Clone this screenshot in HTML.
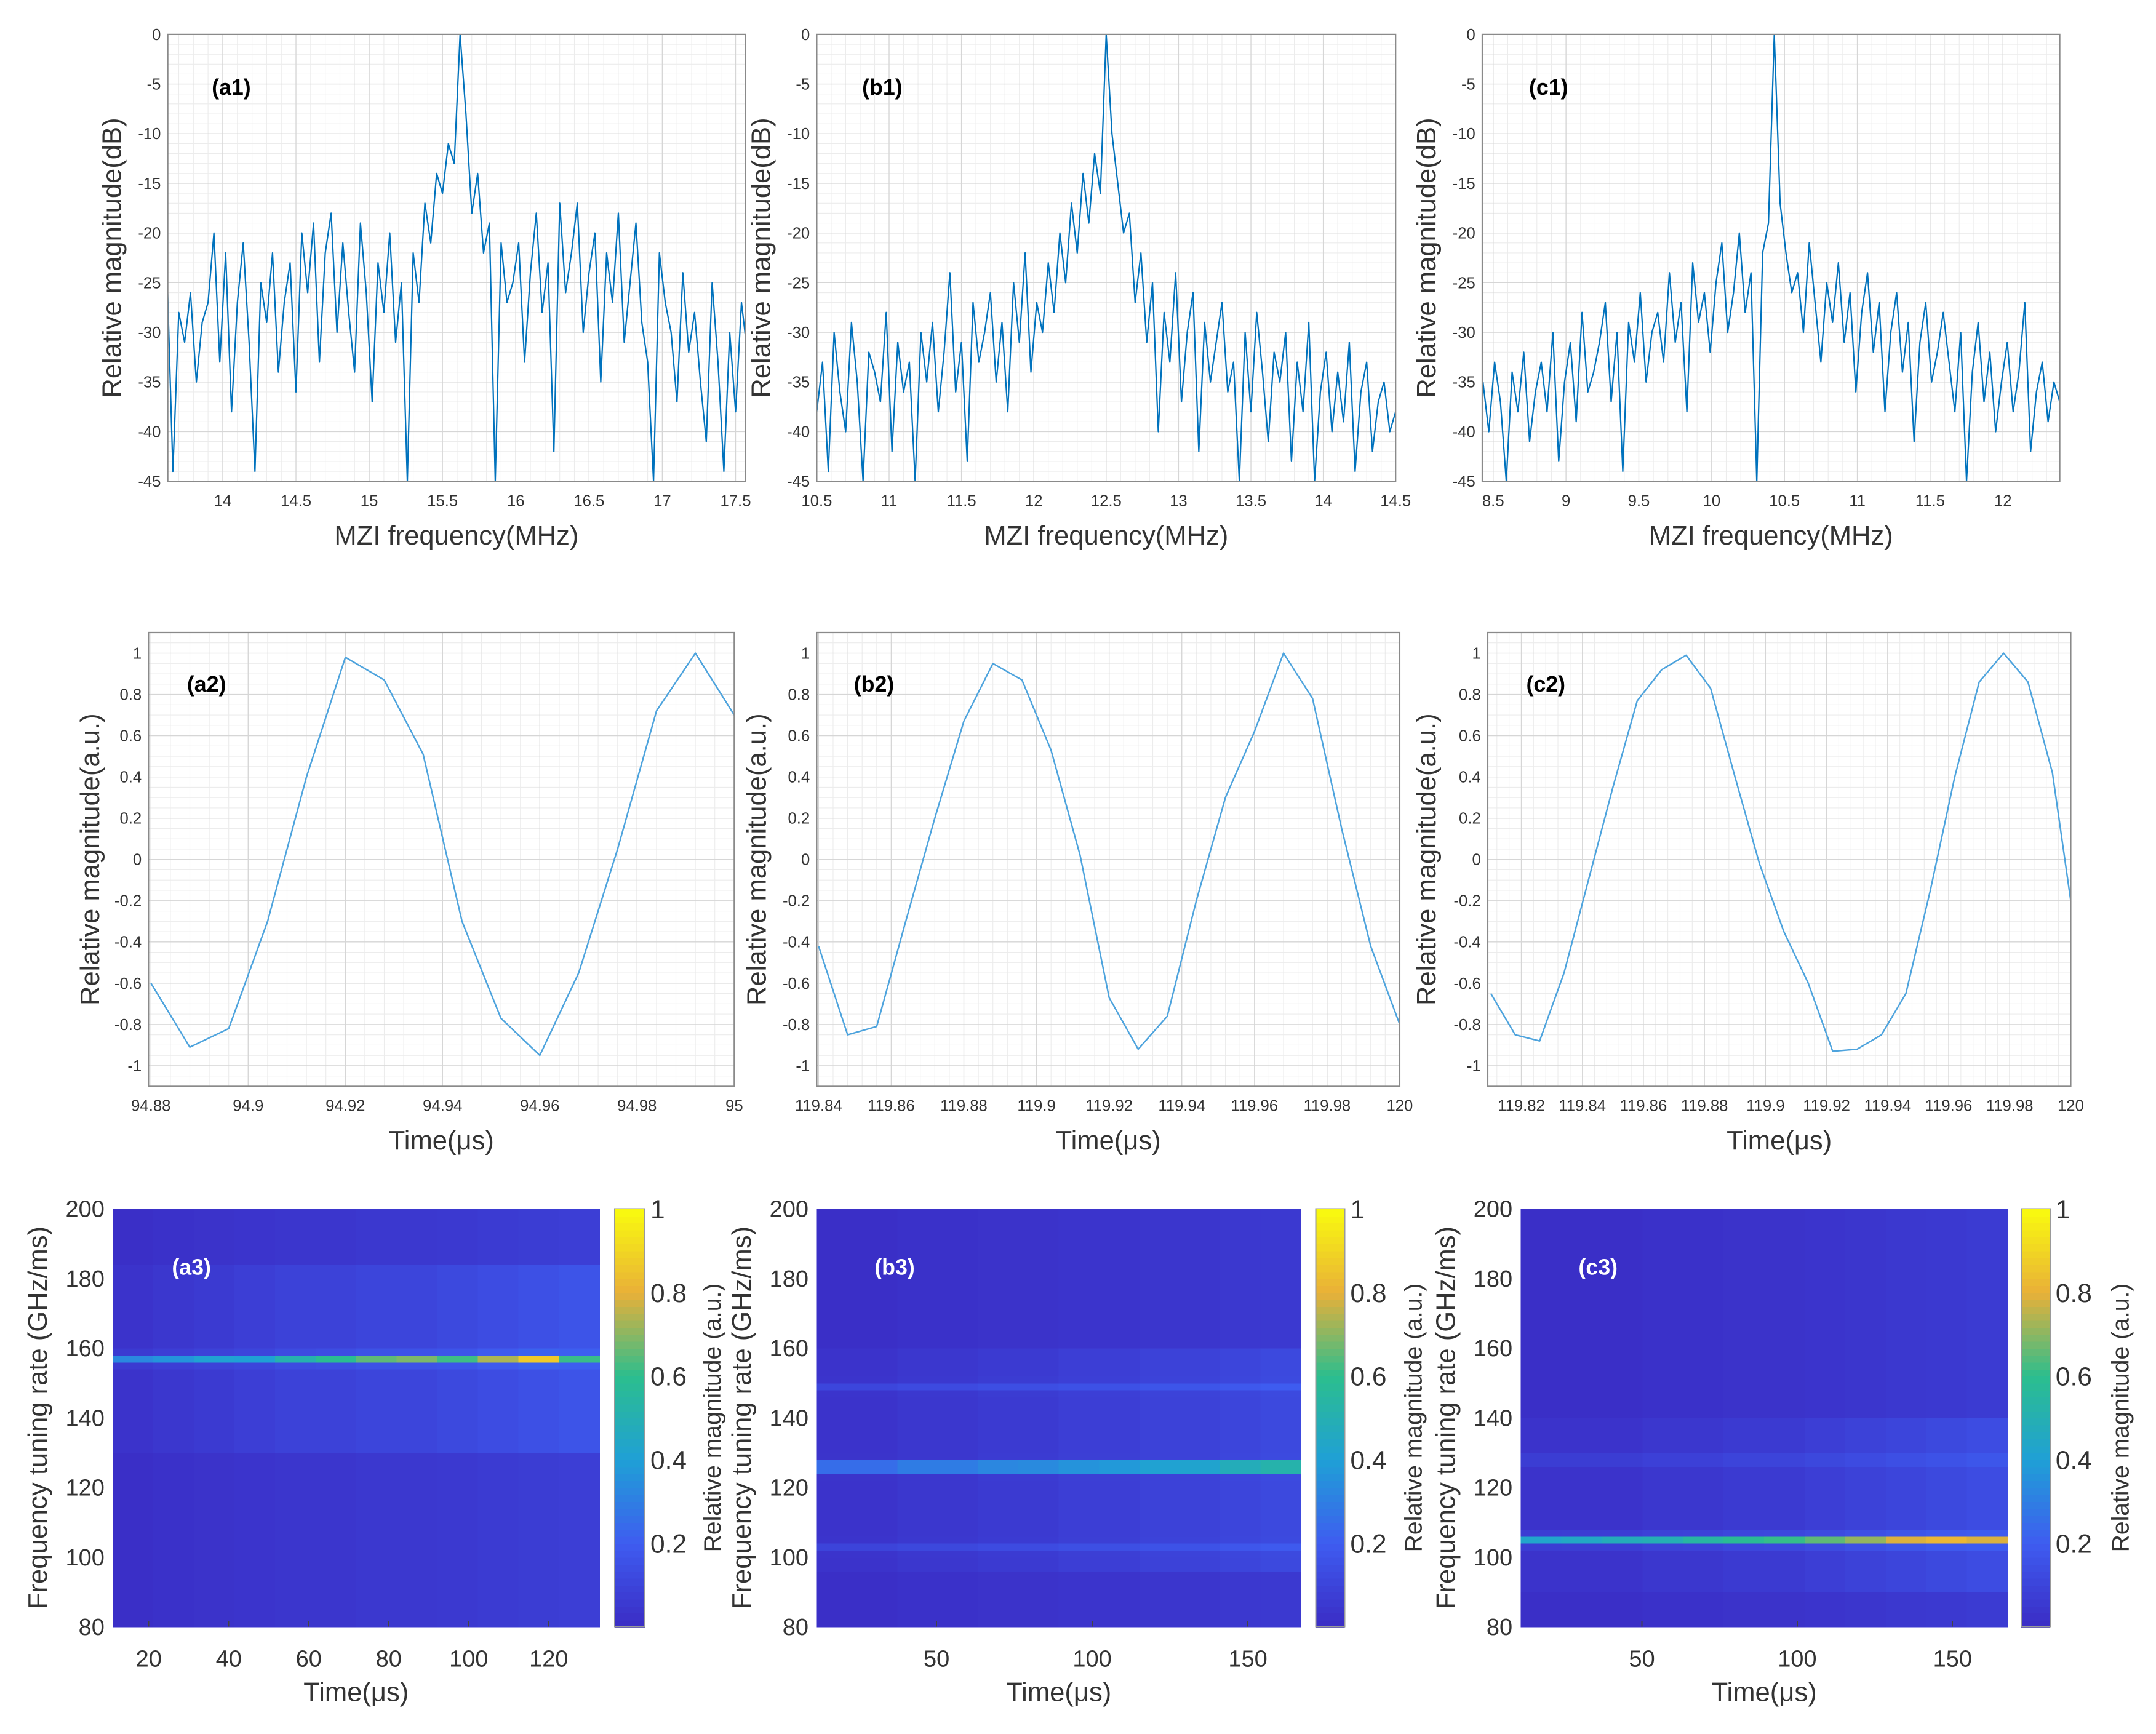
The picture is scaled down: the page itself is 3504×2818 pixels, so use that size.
<!DOCTYPE html>
<html><head><meta charset="utf-8"><style>
html,body{margin:0;padding:0;background:#fff;}
svg{display:block;font-family:"Liberation Sans",Arial,sans-serif;}
</style></head><body>
<svg id="fig" xmlns="http://www.w3.org/2000/svg" width="3504" height="2818" viewBox="0 0 1568 1261"></svg>
<script>
// ---------- DATA ----------
const specA1Start = 13.62, specA1Step = 0.04;
const specA1Values = [-24,-44,-28,-31,-26,-35,-29,-27,-20,-33,
-22,-38,-27,-21,-31,-44,-25,-29,-22,-34,
-27,-23,-36,-20,-26,-19,-33,-22,-18,-30,
-21,-28,-34,-19,-26,-37,-23,-28,-20,-31,
-25,-45,-22,-27,-17,-21,-14,-16,-11,-13,
0,-8,-18,-14,-22,-19,-45,-21,-27,-25,
-21,-33,-24,-18,-28,-23,-42,-17,-26,-22,
-17,-30,-24,-20,-35,-22,-27,-18,-31,-25,
-19,-29,-33,-45,-22,-27,-30,-37,-24,-32,
-28,-35,-41,-25,-33,-44,-30,-38,-27,-32];
const specB1Start = 10.5, specB1Step = 0.04;
const specB1Values = [-38,-33,-44,-30,-36,-40,-29,-35,-45,-32,
-34,-37,-28,-42,-31,-36,-33,-45,-30,-35,
-29,-38,-32,-24,-36,-31,-43,-27,-33,-30,
-26,-35,-29,-38,-25,-31,-22,-34,-27,-30,
-23,-28,-20,-25,-17,-22,-14,-19,-12,-16,
0,-10,-15,-20,-18,-27,-22,-31,-25,-40,
-28,-33,-24,-37,-30,-26,-42,-29,-35,-31,
-27,-36,-33,-45,-30,-38,-28,-34,-41,-32,
-35,-30,-43,-33,-38,-29,-45,-36,-32,-40,
-34,-39,-31,-44,-36,-33,-42,-37,-35,-40,-38];
const specC1Start = 8.43, specC1Step = 0.04;
const specC1Values = [-35,-40,-33,-37,-45,-34,-38,-32,-41,-36,
-33,-38,-30,-43,-35,-31,-39,-28,-36,-34,
-31,-27,-37,-30,-44,-29,-33,-26,-35,-30,
-28,-33,-24,-31,-27,-38,-23,-29,-26,-32,
-25,-21,-30,-26,-20,-28,-24,-45,-22,-19,
0,-17,-22,-26,-24,-30,-21,-27,-33,-25,
-29,-23,-31,-26,-36,-28,-24,-32,-27,-38,
-30,-26,-34,-29,-41,-31,-27,-35,-32,-28,
-33,-38,-30,-45,-34,-29,-37,-32,-40,-35,
-31,-38,-34,-27,-42,-36,-33,-39,-35,-37];

const timeA2 = [94.88,94.888,94.896,94.904,94.912,94.92,94.928,94.936,94.944,94.952,94.96,94.968,94.976,94.984,94.992,95.0];
const sigA2  = [-0.6,-0.91,-0.82,-0.3,0.4,0.98,0.87,0.51,-0.3,-0.77,-0.95,-0.55,0.05,0.72,1.0,0.7];
const timeB2 = [119.84,119.848,119.856,119.864,119.872,119.88,119.888,119.896,119.904,119.912,119.92,119.928,119.936,119.944,119.952,119.96,119.968,119.976,119.984,119.992,120.0];
const sigB2  = [-0.42,-0.85,-0.81,-0.3,0.2,0.67,0.95,0.87,0.53,0.02,-0.67,-0.92,-0.76,-0.2,0.3,0.62,1.0,0.78,0.15,-0.42,-0.8];
const timeC2 = [119.81,119.818,119.826,119.834,119.842,119.85,119.858,119.866,119.874,119.882,119.89,119.898,119.906,119.914,119.922,119.93,119.938,119.946,119.954,119.962,119.97,119.978,119.986,119.994,120.0];
const sigC2  = [-0.65,-0.85,-0.88,-0.55,-0.1,0.35,0.77,0.92,0.99,0.83,0.4,-0.02,-0.35,-0.6,-0.93,-0.92,-0.85,-0.65,-0.15,0.4,0.86,1.0,0.86,0.42,-0.2];

const ridgeRateA3 = 157, ridgeRateB3 = 126, ridgeRateC3 = 105;
const ridgeAmpA3 = [0.3,0.32,0.35,0.33,0.42,0.5,0.55,0.58,0.5,0.6,0.72,0.45];
const ridgeAmpB3 = [0.4,0.4,0.45,0.45,0.48,0.5,0.52,0.55,0.58,0.6,0.68,0.72];
const ridgeAmpC3 = [0.4,0.42,0.45,0.45,0.5,0.52,0.55,0.58,0.62,0.68,0.7,0.65];
const sideRatesB3 = [149,103], sideAmpB3 = [0.08,0.07];
const sideRatesC3 = [128], sideAmpC3 = [0.08];
const bgColA3 = [0.02,0.03,0.04,0.05,0.06,0.06,0.07,0.07,0.08,0.09,0.1,0.11];
const bgColB3 = [0.02,0.02,0.03,0.03,0.04,0.04,0.05,0.05,0.06,0.06,0.07,0.08];
const bgColC3 = [0.02,0.02,0.02,0.03,0.03,0.04,0.04,0.05,0.06,0.07,0.08,0.09];

// ---------- HELPERS ----------
const NS = "http://www.w3.org/2000/svg";
const svg = document.getElementById('fig');
function mk(tag, attrs, parent){
  const e = document.createElementNS(NS, tag);
  for (const k in attrs) e.setAttribute(k, attrs[k]);
  (parent||svg).appendChild(e);
  return e;
}
function txt(parent, x, y, s, size, anchor, extra){
  const t = mk('text', Object.assign({x:x, y:y, 'font-size':size, 'text-anchor':anchor||'middle', fill:'#333'}, extra||{}), parent);
  t.textContent = s;
  return t;
}
function fmt(v){ return (Math.round(v*1000)/1000).toString(); }

function linePanel(cfg){
  const g = mk('g', {});
  
  
  const X = v => cfg.x0 + (v - cfg.xmin)/(cfg.xmax - cfg.xmin)*(cfg.x1 - cfg.x0);
  const Y = v => cfg.y1 - (v - cfg.ymin)/(cfg.ymax - cfg.ymin)*(cfg.y1 - cfg.y0);
  for (let v = Math.ceil(cfg.xmin/cfg.xminor)*cfg.xminor; v <= cfg.xmax; v += cfg.xminor){
    const l = mk('line', {x1:X(v), x2:X(v), y1:cfg.y0, y2:cfg.y1, stroke:'#ececec', 'stroke-width':0.5}, g);
    
    
  }
  for (let v = cfg.ymin; v <= cfg.ymax + 1e-9; v += cfg.yminor){
    const l = mk('line', {x1:cfg.x0, x2:cfg.x1, y1:Y(v), y2:Y(v), stroke:'#ececec', 'stroke-width':0.5}, g);
    
    
  }
  cfg.xticks.forEach(v => {
    const l = mk('line', {x1:X(v), x2:X(v), y1:cfg.y0, y2:cfg.y1, stroke:'#d6d6d6', 'stroke-width':0.6}, g);
    
    
    const t = txt(g, X(v), cfg.y1 + 18, fmt(v), 11.5, 'middle');
    
    
  });
  cfg.yticks.forEach(v => {
    const l = mk('line', {x1:cfg.x0, x2:cfg.x1, y1:Y(v), y2:Y(v), stroke:'#d6d6d6', 'stroke-width':0.6}, g);
    
    
    const t = txt(g, cfg.x0 - 5, Y(v) + 4, fmt(v), 11.5, 'end');
    
    
  });
  const xs = cfg.xs, ys = cfg.ys;
  let d = '';
  for (let i = 0; i < ys.length; i++){
    const yv = Math.max(cfg.ymin, Math.min(cfg.ymax, ys[i]));
    d += (i ? 'L' : 'M') + X(xs[i]).toFixed(2) + ',' + Y(yv).toFixed(2);
  }
  const cp = mk('clipPath', {id:'clip-'+cfg.name}, g);
  mk('rect', {x:cfg.x0, y:cfg.y0, width:cfg.x1-cfg.x0, height:cfg.y1-cfg.y0}, cp);
  const p = mk('path', {d:d, fill:'none', stroke:cfg.color, 'stroke-width':cfg.sw, 'stroke-linejoin':'round', 'clip-path':'url(#clip-'+cfg.name+')'}, g);
  
  
  const box = mk('rect', {x:cfg.x0, y:cfg.y0, width:cfg.x1-cfg.x0, height:cfg.y1-cfg.y0, fill:'none', stroke:'#8a8a8a', 'stroke-width':1}, g);
  
  
  const pl = txt(g, cfg.labX, cfg.labY, cfg.label, 16, 'start', {'font-weight':'bold', fill:'#000'});
  
  
  const xl = txt(g, (cfg.x0+cfg.x1)/2, cfg.y1 + 46, cfg.xlabel, 19.5, 'middle');
  
  
  const yl = txt(g, 0, 0, cfg.ylabel, 19.5, 'middle', {transform:'translate('+cfg.ylabX+','+((cfg.y0+cfg.y1)/2)+') rotate(-90)'});
  
  
}

function seq(start, step, n){ const a=[]; for(let i=0;i<n;i++) a.push(start+i*step); return a; }
function range(a,b,s){ const r=[]; for(let v=a; v<=b+1e-9; v+=s) r.push(Math.round(v*1000)/1000); return r; }

const r1 = {y0:25, y1:350, ymin:-45, ymax:0, yminor:1, yticks:range(-45,0,5), xminor:0.1, color:'#0072bd', sw:1.0, xlabel:'MZI frequency(MHz)', ylabel:'Relative magnitude(dB)', labY:69};
linePanel(Object.assign({}, r1, {name:'spectrum-a1', x0:122, x1:542, xmin:13.625, xmax:17.566, xs:seq(specA1Start,specA1Step,specA1Values.length), ys:specA1Values, xticks:range(14,17.5,0.5), label:'(a1)', labX:154, ylabX:88}));
linePanel(Object.assign({}, r1, {name:'spectrum-b1', x0:594, x1:1015, xmin:10.5, xmax:14.5, xs:seq(specB1Start,specB1Step,specB1Values.length), ys:specB1Values, xticks:range(10.5,14.5,0.5), label:'(b1)', labX:627, ylabX:560}));
linePanel(Object.assign({}, r1, {name:'spectrum-c1', x0:1078, x1:1498, xmin:8.425, xmax:12.39, xs:seq(specC1Start,specC1Step,specC1Values.length), ys:specC1Values, xticks:range(8.5,12,0.5), label:'(c1)', labX:1112, ylabX:1044}));

const r2 = {y0:460, y1:790, ymin:-1.1, ymax:1.1, yminor:0.05, yticks:range(-1,1,0.2), xminor:0.004, color:'#4da3dd', sw:1.1, xlabel:'Time(\u03bcs)', ylabel:'Relative magnitude(a.u.)', labY:503};
linePanel(Object.assign({}, r2, {name:'waveform-a2', x0:108, x1:534, xmin:94.8795, xmax:95.0, xs:timeA2, ys:sigA2, xticks:range(94.88,95,0.02), label:'(a2)', labX:136, ylabX:72}));
linePanel(Object.assign({}, r2, {name:'waveform-b2', x0:594, x1:1018, xmin:119.8395, xmax:120.0, xs:timeB2, ys:sigB2, xticks:range(119.84,120,0.02), label:'(b2)', labX:621, ylabX:557}));
linePanel(Object.assign({}, r2, {name:'waveform-c2', x0:1082, x1:1506, xmin:119.809, xmax:120.0, xs:timeC2, ys:sigC2, xticks:range(119.82,120,0.02), label:'(c2)', labX:1110, ylabX:1044}));

const stops = [[0,[58,44,196]],[0.2,[62,92,240]],[0.4,[31,160,214]],[0.6,[43,190,142]],[0.8,[233,176,56]],[1,[249,251,14]]];
function cmap(v){
  v = Math.max(0, Math.min(1, v));
  for (let i = 1; i < stops.length; i++){
    if (v <= stops[i][0]){
      const a = stops[i-1], b = stops[i], t = (v-a[0])/(b[0]-a[0]);
      const c = a[1].map((x,k)=>Math.round(x+(b[1][k]-x)*t));
      return 'rgb('+c.join(',')+')';
    }
  }
  return 'rgb(249,251,14)';
}
function heatPanel(cfg){
  const g = mk('g', {'shape-rendering':'crispEdges'});
  
  
  const X = v => cfg.x0 + (v - cfg.xmin)/(cfg.xmax - cfg.xmin)*(cfg.x1 - cfg.x0);
  const Y = v => cfg.y1 - (v - 80)/(200 - 80)*(cfg.y1 - cfg.y0);
  const nc = 60, nr = 60;
  const dt = (cfg.xmax - cfg.xmin)/nc, dr = 120/nr;
  for (let c = 0; c < nc; c++){
    const seg = Math.min(cfg.amp.length-1, Math.floor(c/nc*cfg.amp.length));
    const t0 = cfg.xmin + c*dt;
    for (let r = 0; r < nr; r++){
      const rate = 80 + (r+0.5)*dr;
      let v = cfg.bg[seg] * (rate > cfg.bgLo && rate < cfg.bgHi ? 1.5 : 0.7);
      v += cfg.amp[seg]*Math.exp(-Math.pow((rate - cfg.ridge)/1.3, 2));
      cfg.side.forEach((sr,k)=>{ v += cfg.sideAmp[k]*Math.exp(-Math.pow((rate - sr)/1.2, 2)); });
      const cell = mk('rect', {x:X(t0).toFixed(2), y:Y(80+(r+1)*dr).toFixed(2), width:((cfg.x1-cfg.x0)/nc+0.4).toFixed(2), height:((cfg.y1-cfg.y0)/nr+0.4).toFixed(2), fill:cmap(v)}, g);
      
      
    }
  }
  [80,100,120,140,160,180,200].forEach(v=>{
    const t = txt(g, cfg.x0 - 6, Y(v) + 6, String(v), 17, 'end');
    
    
  });
  cfg.xticks.forEach(v=>{
    const tk = mk('line', {x1:X(v), x2:X(v), y1:cfg.y1, y2:cfg.y1-4, stroke:'#444', 'stroke-width':0.8}, g);
    
    
    const t = txt(g, X(v), cfg.y1 + 29, String(v), 17, 'middle');
    
    
  });
  const xl = txt(g, (cfg.x0+cfg.x1)/2, cfg.y1 + 54, 'Time(\u03bcs)', 19.5, 'middle');
  
  
  const yl = txt(g, 0, 0, 'Frequency tuning rate (GHz/ms)', 19.5, 'middle', {transform:'translate('+cfg.ylabX+','+((cfg.y0+cfg.y1)/2)+') rotate(-90)'});
  
  
  const pl = txt(g, cfg.labX, cfg.y0 + 48, cfg.label, 16, 'start', {'font-weight':'bold', fill:'#fff'});
  
  
  const cb = mk('g', {}, g);
  
  
  const n = 60;
  for (let i = 0; i < n; i++){
    const s = mk('rect', {x:cfg.cbx, y:(cfg.y1 - (i+1)*(cfg.y1-cfg.y0)/n).toFixed(2), width:cfg.cbw, height:((cfg.y1-cfg.y0)/n+0.5).toFixed(2), fill:cmap((i+0.5)/n)}, cb);
    
    
  }
  mk('rect', {x:cfg.cbx, y:cfg.y0, width:cfg.cbw, height:cfg.y1-cfg.y0, fill:'none', stroke:'#999', 'stroke-width':0.8}, cb);
  [0.2,0.4,0.6,0.8,1].forEach(v=>{
    const yy = cfg.y1 - v*(cfg.y1-cfg.y0);
    const t = txt(cb, cfg.cbx + cfg.cbw + 4, yy + 7, String(v), 19, 'start');
    
    
  });
  const ct = txt(cb, 0, 0, 'Relative magnitude (a.u.)', 17.5, 'middle', {transform:'translate('+cfg.cbLabX+','+((cfg.y0+cfg.y1)/2)+') rotate(-90)'});
  
  
}
heatPanel({name:'heatmap-a3', x0:82, x1:436, y0:879, y1:1183, xmin:11, xmax:132.7, ridge:ridgeRateA3, amp:ridgeAmpA3, bg:bgColA3, bgLo:130, bgHi:185, side:[], sideAmp:[], xticks:[20,40,60,80,100,120], ylabX:34, labX:125, cbx:447, cbw:22, cbLabX:524, label:'(a3)'});
heatPanel({name:'heatmap-b3', x0:594, x1:946, y0:879, y1:1183, xmin:11.5, xmax:167, ridge:ridgeRateB3, amp:ridgeAmpB3, bg:bgColB3, bgLo:95, bgHi:160, side:sideRatesB3, sideAmp:sideAmpB3, xticks:[50,100,150], ylabX:546, labX:636, cbx:957, cbw:21, cbLabX:1034, label:'(b3)'});
heatPanel({name:'heatmap-c3', x0:1106, x1:1460, y0:879, y1:1183, xmin:11, xmax:167.7, ridge:ridgeRateC3, amp:ridgeAmpC3, bg:bgColC3, bgLo:90, bgHi:140, side:sideRatesC3, sideAmp:sideAmpC3, xticks:[50,100,150], ylabX:1058, labX:1148, cbx:1470, cbw:21, cbLabX:1548, label:'(c3)'});
</script>
</body></html>
